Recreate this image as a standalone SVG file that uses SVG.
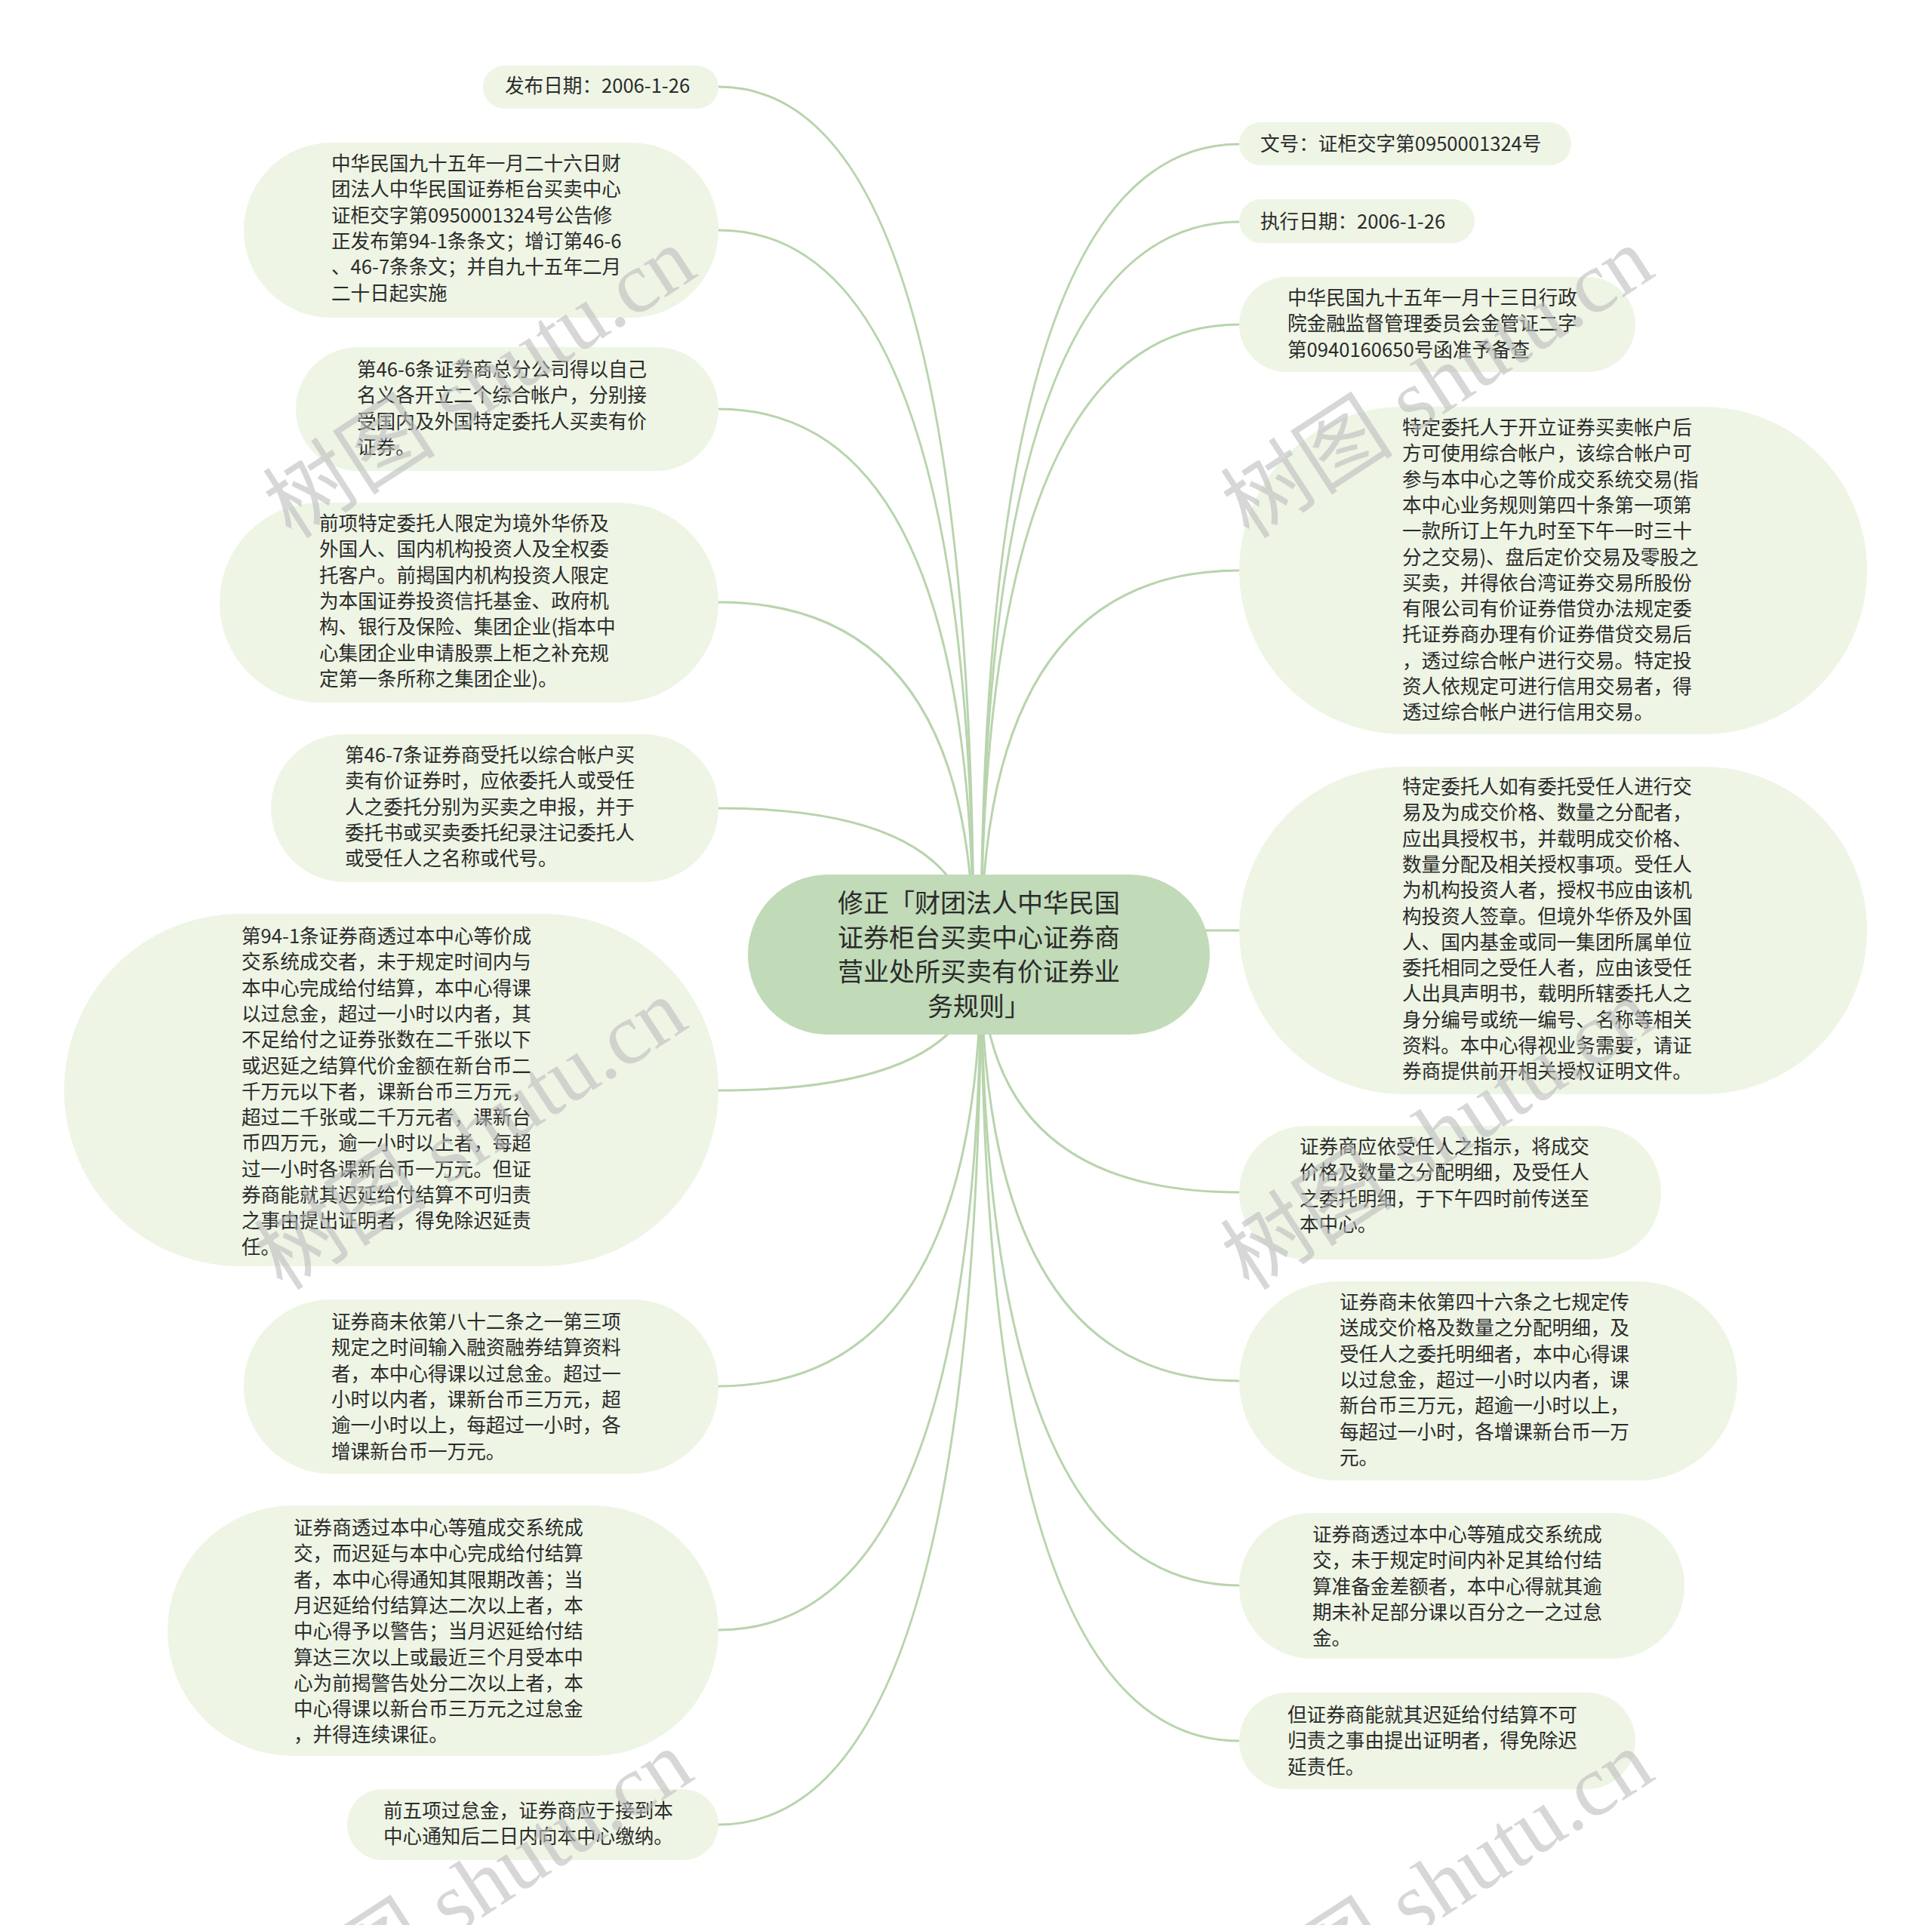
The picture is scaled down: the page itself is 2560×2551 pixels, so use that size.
<svg xmlns="http://www.w3.org/2000/svg" width="2560" height="2551" viewBox="0 0 2560 2551">
<style>
.bg{fill:#ffffff}
.leaf{fill:#eef5e5}
.root{fill:#c1dab8}
.c{fill:none;stroke:#b8d4ad;stroke-width:3}
.t{font-family:"Noto Sans CJK SC","Noto Sans",sans-serif;font-size:25.6px;fill:#2b2b2b}
.rt{font-family:"Noto Sans CJK SC","Noto Sans",sans-serif;font-size:34px;fill:#2b2b2b;text-anchor:middle}
.wm{font-family:"Liberation Serif","Noto Sans CJK SC",serif;font-size:115px;fill:#bdbdbd;fill-opacity:0.6;text-anchor:middle}
</style>
<rect class="bg" x="0" y="0" width="2560" height="2551"/>
<g id="connectors">
<path class="c" d="M1290 1265 Q1290 115 952 115"/>
<path class="c" d="M1290 1265 Q1290 305 952 305"/>
<path class="c" d="M1290 1265 Q1290 542 952 542"/>
<path class="c" d="M1290 1265 Q1290 798 952 798"/>
<path class="c" d="M1290 1265 Q1290 1071 952 1071"/>
<path class="c" d="M1300 1265 Q1300 1445 952 1445"/>
<path class="c" d="M1300 1265 Q1300 1837 952 1837"/>
<path class="c" d="M1300 1265 Q1300 2160 952 2160"/>
<path class="c" d="M1300 1265 Q1300 2418 952 2418"/>
<path class="c" d="M1300 1265 Q1300 191 1642 191"/>
<path class="c" d="M1300 1265 Q1300 294 1642 294"/>
<path class="c" d="M1300 1265 Q1300 430 1642 430"/>
<path class="c" d="M1300 1265 Q1300 756 1642 756"/>
<path class="c" d="M1580 1233 L1642 1233"/>
<path class="c" d="M1300 1265 Q1300 1580 1642 1580"/>
<path class="c" d="M1300 1265 Q1300 1830 1642 1830"/>
<path class="c" d="M1300 1265 Q1300 2101 1642 2101"/>
<path class="c" d="M1300 1265 Q1300 2307 1642 2307"/>
</g>
<g id="root">
<rect class="root" x="991" y="1159" width="612" height="212" rx="106"/>
<text class="rt" x="1297" y="1209">修正「财团法人中华民国<tspan x="1297" dy="45.7">证券柜台买卖中心证券商</tspan><tspan x="1297" dy="45.7">营业处所买卖有价证券业</tspan><tspan x="1297" dy="45.7">务规则」</tspan></text>
</g>
<g id="L1">
<rect class="leaf" x="640" y="87" width="312" height="57" rx="28.5"/>
<text class="t" x="669" y="123">发布日期：2006-1-26</text>
</g>
<g id="L2">
<rect class="leaf" x="323" y="189" width="629" height="232" rx="116"/>
<text class="t" x="439" y="226">中华民国九十五年一月二十六日财<tspan x="439" dy="34.3">团法人中华民国证券柜台买卖中心</tspan><tspan x="439" dy="34.3">证柜交字第0950001324号公告修</tspan><tspan x="439" dy="34.3">正发布第94-1条条文；增订第46-6</tspan><tspan x="439" dy="34.3">、46-7条条文；并自九十五年二月</tspan><tspan x="439" dy="34.3">二十日起实施</tspan></text>
</g>
<g id="L3">
<rect class="leaf" x="392" y="460" width="560" height="164" rx="82"/>
<text class="t" x="473" y="499">第46-6条证券商总分公司得以自己<tspan x="473" dy="34.3">名义各开立二个综合帐户，分别接</tspan><tspan x="473" dy="34.3">受国内及外国特定委托人买卖有价</tspan><tspan x="473" dy="34.3">证券。</tspan></text>
</g>
<g id="L4">
<rect class="leaf" x="291" y="666" width="661" height="265" rx="132"/>
<text class="t" x="423" y="703">前项特定委托人限定为境外华侨及<tspan x="423" dy="34.3">外国人、国内机构投资人及全权委</tspan><tspan x="423" dy="34.3">托客户。前揭国内机构投资人限定</tspan><tspan x="423" dy="34.3">为本国证券投资信托基金、政府机</tspan><tspan x="423" dy="34.3">构、银行及保险、集团企业(指本中</tspan><tspan x="423" dy="34.3">心集团企业申请股票上柜之补充规</tspan><tspan x="423" dy="34.3">定第一条所称之集团企业)。</tspan></text>
</g>
<g id="L5">
<rect class="leaf" x="359" y="973" width="593" height="196" rx="98"/>
<text class="t" x="457" y="1010">第46-7条证券商受托以综合帐户买<tspan x="457" dy="34.3">卖有价证券时，应依委托人或受任</tspan><tspan x="457" dy="34.3">人之委托分别为买卖之申报，并于</tspan><tspan x="457" dy="34.3">委托书或买卖委托纪录注记委托人</tspan><tspan x="457" dy="34.3">或受任人之名称或代号。</tspan></text>
</g>
<g id="L6">
<rect class="leaf" x="85" y="1211" width="867" height="467" rx="233"/>
<text class="t" x="320" y="1250">第94-1条证券商透过本中心等价成<tspan x="320" dy="34.3">交系统成交者，未于规定时间内与</tspan><tspan x="320" dy="34.3">本中心完成给付结算，本中心得课</tspan><tspan x="320" dy="34.3">以过怠金，超过一小时以内者，其</tspan><tspan x="320" dy="34.3">不足给付之证券张数在二千张以下</tspan><tspan x="320" dy="34.3">或迟延之结算代价金额在新台币二</tspan><tspan x="320" dy="34.3">千万元以下者，课新台币三万元，</tspan><tspan x="320" dy="34.3">超过二千张或二千万元者，课新台</tspan><tspan x="320" dy="34.3">币四万元，逾一小时以上者，每超</tspan><tspan x="320" dy="34.3">过一小时各课新台币一万元。但证</tspan><tspan x="320" dy="34.3">券商能就其迟延给付结算不可归责</tspan><tspan x="320" dy="34.3">之事由提出证明者，得免除迟延责</tspan><tspan x="320" dy="34.3">任。</tspan></text>
</g>
<g id="L7">
<rect class="leaf" x="323" y="1722" width="629" height="231" rx="115"/>
<text class="t" x="439" y="1761">证券商未依第八十二条之一第三项<tspan x="439" dy="34.3">规定之时间输入融资融券结算资料</tspan><tspan x="439" dy="34.3">者，本中心得课以过怠金。超过一</tspan><tspan x="439" dy="34.3">小时以内者，课新台币三万元，超</tspan><tspan x="439" dy="34.3">逾一小时以上，每超过一小时，各</tspan><tspan x="439" dy="34.3">增课新台币一万元。</tspan></text>
</g>
<g id="L8">
<rect class="leaf" x="222" y="1995" width="730" height="332" rx="166"/>
<text class="t" x="389" y="2034">证券商透过本中心等殖成交系统成<tspan x="389" dy="34.3">交，而迟延与本中心完成给付结算</tspan><tspan x="389" dy="34.3">者，本中心得通知其限期改善；当</tspan><tspan x="389" dy="34.3">月迟延给付结算达二次以上者，本</tspan><tspan x="389" dy="34.3">中心得予以警告；当月迟延给付结</tspan><tspan x="389" dy="34.3">算达三次以上或最近三个月受本中</tspan><tspan x="389" dy="34.3">心为前揭警告处分二次以上者，本</tspan><tspan x="389" dy="34.3">中心得课以新台币三万元之过怠金</tspan><tspan x="389" dy="34.3">，并得连续课征。</tspan></text>
</g>
<g id="L9">
<rect class="leaf" x="460" y="2371" width="492" height="94" rx="47"/>
<text class="t" x="508" y="2409">前五项过怠金，证券商应于接到本<tspan x="508" dy="34.3">中心通知后二日内向本中心缴纳。</tspan></text>
</g>
<g id="R1">
<rect class="leaf" x="1642" y="162" width="440" height="57" rx="28.5"/>
<text class="t" x="1670" y="200">文号：证柜交字第0950001324号</text>
</g>
<g id="R2">
<rect class="leaf" x="1642" y="264" width="312" height="58" rx="29"/>
<text class="t" x="1670" y="303">执行日期：2006-1-26</text>
</g>
<g id="R3">
<rect class="leaf" x="1642" y="367" width="525" height="126" rx="63"/>
<text class="t" x="1706" y="404">中华民国九十五年一月十三日行政<tspan x="1706" dy="34.3">院金融监督管理委员会金管证二字</tspan><tspan x="1706" dy="34.3">第0940160650号函准予备查</tspan></text>
</g>
<g id="R4">
<rect class="leaf" x="1642" y="539" width="832" height="434" rx="217"/>
<text class="t" x="1858" y="576">特定委托人于开立证券买卖帐户后<tspan x="1858" dy="34.3">方可使用综合帐户，该综合帐户可</tspan><tspan x="1858" dy="34.3">参与本中心之等价成交系统交易(指</tspan><tspan x="1858" dy="34.3">本中心业务规则第四十条第一项第</tspan><tspan x="1858" dy="34.3">一款所订上午九时至下午一时三十</tspan><tspan x="1858" dy="34.3">分之交易)、盘后定价交易及零股之</tspan><tspan x="1858" dy="34.3">买卖，并得依台湾证券交易所股份</tspan><tspan x="1858" dy="34.3">有限公司有价证券借贷办法规定委</tspan><tspan x="1858" dy="34.3">托证券商办理有价证券借贷交易后</tspan><tspan x="1858" dy="34.3">，透过综合帐户进行交易。特定投</tspan><tspan x="1858" dy="34.3">资人依规定可进行信用交易者，得</tspan><tspan x="1858" dy="34.3">透过综合帐户进行信用交易。</tspan></text>
</g>
<g id="R5">
<rect class="leaf" x="1642" y="1016" width="832" height="434" rx="217"/>
<text class="t" x="1858" y="1052">特定委托人如有委托受任人进行交<tspan x="1858" dy="34.3">易及为成交价格、数量之分配者，</tspan><tspan x="1858" dy="34.3">应出具授权书，并载明成交价格、</tspan><tspan x="1858" dy="34.3">数量分配及相关授权事项。受任人</tspan><tspan x="1858" dy="34.3">为机构投资人者，授权书应由该机</tspan><tspan x="1858" dy="34.3">构投资人签章。但境外华侨及外国</tspan><tspan x="1858" dy="34.3">人、国内基金或同一集团所属单位</tspan><tspan x="1858" dy="34.3">委托相同之受任人者，应由该受任</tspan><tspan x="1858" dy="34.3">人出具声明书，载明所辖委托人之</tspan><tspan x="1858" dy="34.3">身分编号或统一编号、名称等相关</tspan><tspan x="1858" dy="34.3">资料。本中心得视业务需要，请证</tspan><tspan x="1858" dy="34.3">券商提供前开相关授权证明文件。</tspan></text>
</g>
<g id="R6">
<rect class="leaf" x="1642" y="1492" width="559" height="177" rx="88"/>
<text class="t" x="1722" y="1529">证券商应依受任人之指示，将成交<tspan x="1722" dy="34.3">价格及数量之分配明细，及受任人</tspan><tspan x="1722" dy="34.3">之委托明细，于下午四时前传送至</tspan><tspan x="1722" dy="34.3">本中心。</tspan></text>
</g>
<g id="R7">
<rect class="leaf" x="1642" y="1698" width="660" height="264" rx="132"/>
<text class="t" x="1775" y="1735">证券商未依第四十六条之七规定传<tspan x="1775" dy="34.3">送成交价格及数量之分配明细，及</tspan><tspan x="1775" dy="34.3">受任人之委托明细者，本中心得课</tspan><tspan x="1775" dy="34.3">以过怠金，超过一小时以内者，课</tspan><tspan x="1775" dy="34.3">新台币三万元，超逾一小时以上，</tspan><tspan x="1775" dy="34.3">每超过一小时，各增课新台币一万</tspan><tspan x="1775" dy="34.3">元。</tspan></text>
</g>
<g id="R8">
<rect class="leaf" x="1642" y="2005" width="590" height="193" rx="96"/>
<text class="t" x="1739" y="2043">证券商透过本中心等殖成交系统成<tspan x="1739" dy="34.3">交，未于规定时间内补足其给付结</tspan><tspan x="1739" dy="34.3">算准备金差额者，本中心得就其逾</tspan><tspan x="1739" dy="34.3">期未补足部分课以百分之一之过怠</tspan><tspan x="1739" dy="34.3">金。</tspan></text>
</g>
<g id="R9">
<rect class="leaf" x="1642" y="2243" width="525" height="128" rx="64"/>
<text class="t" x="1706" y="2282">但证券商能就其迟延给付结算不可<tspan x="1706" dy="34.3">归责之事由提出证明者，得免除迟</tspan><tspan x="1706" dy="34.3">延责任。</tspan></text>
</g>
<g id="watermarks">
<text class="wm" transform="translate(657 540) rotate(-33)">树图 shutu.cn</text>
<text class="wm" transform="translate(1926 540) rotate(-33)">树图 shutu.cn</text>
<text class="wm" transform="translate(645 1536) rotate(-33)">树图 shutu.cn</text>
<text class="wm" transform="translate(1926 1536) rotate(-33)">树图 shutu.cn</text>
<text class="wm" transform="translate(653 2532) rotate(-33)">树图 shutu.cn</text>
<text class="wm" transform="translate(1926 2532) rotate(-33)">树图 shutu.cn</text>
</g>
</svg>
